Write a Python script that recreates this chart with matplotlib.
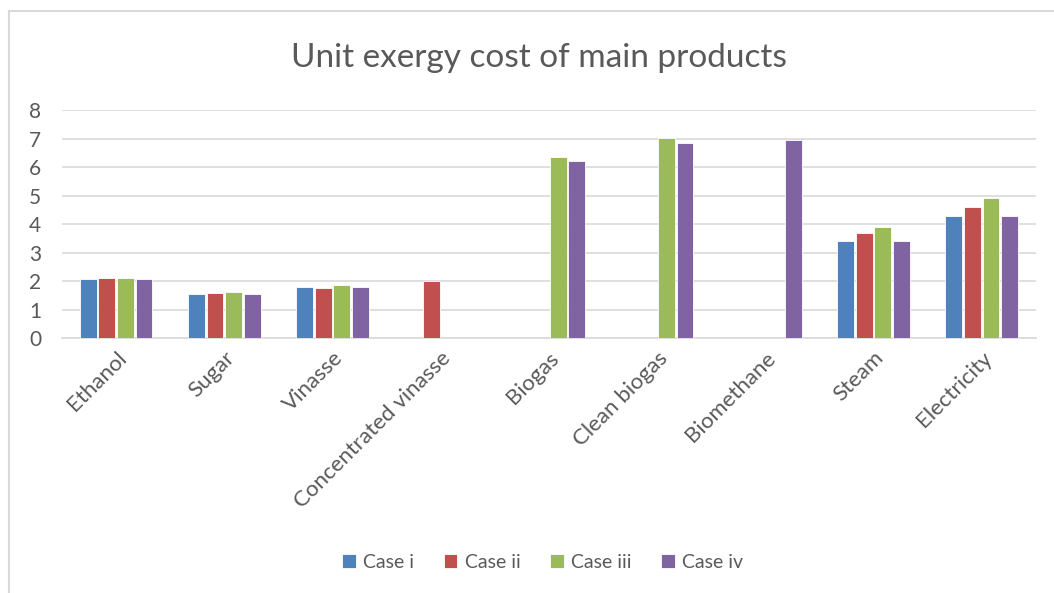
import numpy as np
import matplotlib
matplotlib.use("Agg")
import matplotlib.pyplot as plt
from matplotlib.lines import Line2D

categories = ["Ethanol", "Sugar", "Vinasse", "Concentrated vinasse", "Biogas",
              "Clean biogas", "Biomethane", "Steam", "Electricity"]
case_i = [2.07, 1.53, 1.80, np.nan, np.nan, np.nan, np.nan, 3.42, 4.27]
case_ii = [2.12, 1.58, 1.76, 1.99, np.nan, np.nan, np.nan, 3.69, 4.59]
case_iii = [2.12, 1.63, 1.85, np.nan, 6.35, 7.01, np.nan, 3.91, 4.91]
case_iv = [2.07, 1.53, 1.80, np.nan, 6.21, 6.84, 6.93, 3.42, 4.27]
series_names = ["Case i", "Case ii", "Case iii", "Case iv"]
colors = ["#4F81BD", "#C0504D", "#9BBB59", "#8064A2"]

plt.rcParams["font.family"] = ["Lato", "DejaVu Sans"]
text_col = "#595959"

fig = plt.figure(figsize=(10.54, 5.93), dpi=100)
ax = fig.add_axes([0.0588, 0.43, 0.924, 0.3845])

x = np.arange(len(categories))
w = 0.172
series = [case_i, case_ii, case_iii, case_iv]
for k, (vals, name, c) in enumerate(zip(series, series_names, colors)):
    ax.bar(x + (k - 1.5) * w, vals, width=w * 0.9, color=c, label=name,
           edgecolor="white", linewidth=0.6, zorder=3)

ax.set_xlim(-0.5, len(categories) - 0.5)
ax.set_ylim(0, 8)
ax.set_yticks(range(0, 9))
ax.yaxis.grid(True, color="#D9D9D9", linewidth=1.2, zorder=0)
ax.set_axisbelow(True)
for s in ["top", "right", "left"]:
    ax.spines[s].set_visible(False)
ax.spines["bottom"].set_color("#D9D9D9")
ax.spines["bottom"].set_linewidth(1.2)
ax.tick_params(axis="y", length=0, labelsize=15, colors=text_col, pad=15)
ax.tick_params(axis="x", length=0, labelsize=16, colors=text_col, pad=7)
ax.set_xticks(x)
ax.set_xticklabels(categories, rotation=45, ha="right", rotation_mode="anchor")

fig.text(0.511, 0.902, "Unit exergy cost of main products", ha="center", va="center",
         fontsize=24, color=text_col)

fig.legend(loc="center", bbox_to_anchor=(0.515, 0.052), ncol=4, frameon=False,
           fontsize=14, labelcolor=text_col, handlelength=0.7, handleheight=0.7,
           handletextpad=0.4, columnspacing=1.5)

# chart-area border (open at right and bottom, as cropped)
fig.add_artist(Line2D([9 / 1054, 9 / 1054], [0, 1 - 11 / 593], transform=fig.transFigure,
                      color="#D9D9D9", linewidth=1.5))
fig.add_artist(Line2D([9 / 1054, 1], [1 - 11 / 593, 1 - 11 / 593], transform=fig.transFigure,
                      color="#D9D9D9", linewidth=1.5))

fig.savefig("out.png", dpi=100)
